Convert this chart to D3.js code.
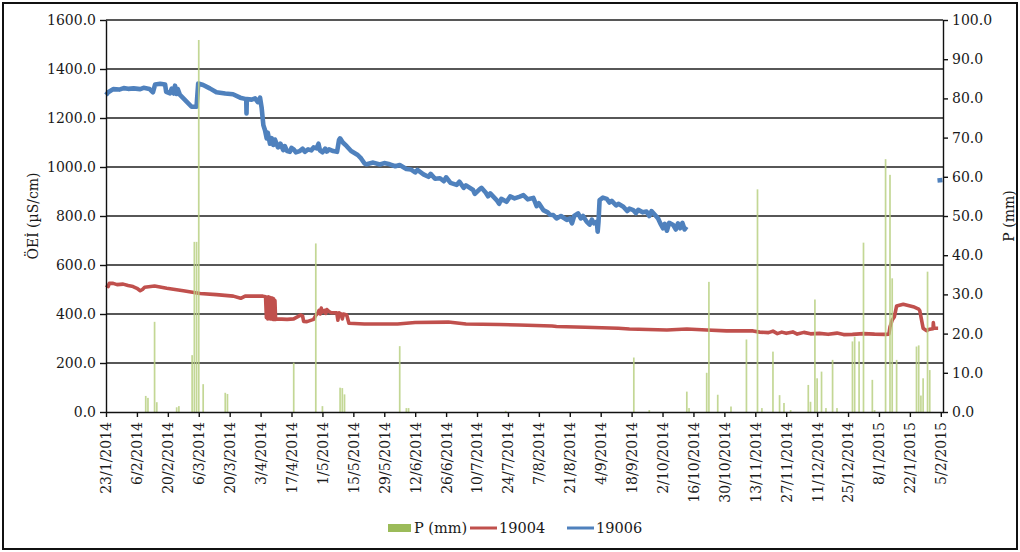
<!DOCTYPE html>
<html>
<head>
<meta charset="utf-8">
<script src="https://cdn.jsdelivr.net/npm/d3@7"></script>
<style>
  body { margin: 0; background: #fff; }
  svg { display: block; }
  text { font-family: "DejaVu Serif", "Liberation Serif", serif; fill: #1a1a1a; }
</style>
</head>
<body>
<svg id="chart" width="1020" height="552"></svg>
<script>
// Tick labels of the date axis (every 14 days)
const dateTicks = [
  "2014-01-23", "2014-02-06", "2014-02-20", "2014-03-06", "2014-03-20", "2014-04-03",
  "2014-04-17", "2014-05-01", "2014-05-15", "2014-05-29", "2014-06-12", "2014-06-26",
  "2014-07-10", "2014-07-24", "2014-08-07", "2014-08-21", "2014-09-04", "2014-09-18",
  "2014-10-02", "2014-10-16", "2014-10-30", "2014-11-13", "2014-11-27", "2014-12-11",
  "2014-12-25", "2015-01-08", "2015-01-22", "2015-02-05"
];
const dateDomain = ["2014-01-23", "2015-02-06"];
const ecTicks = [0, 200, 400, 600, 800, 1000, 1200, 1400, 1600];
const pTicks = [0, 10, 20, 30, 40, 50, 60, 70, 80, 90, 100];

// Daily precipitation, P (mm)
const precipitation = [
  ["2014-02-10", 4.1], ["2014-02-11", 3.6], ["2014-02-14", 23.0], ["2014-02-15", 2.5],
  ["2014-02-24", 1.2], ["2014-02-25", 1.5], ["2014-03-03", 14.5], ["2014-03-04", 43.4],
  ["2014-03-05", 43.4], ["2014-03-06", 94.9], ["2014-03-08", 7.1], ["2014-03-18", 4.9],
  ["2014-03-19", 4.6], ["2014-04-18", 12.6], ["2014-04-28", 43.0], ["2014-05-01", 1.5],
  ["2014-05-09", 6.2], ["2014-05-10", 6.1], ["2014-05-11", 4.5], ["2014-06-05", 16.8],
  ["2014-06-08", 1.0], ["2014-06-09", 1.0], ["2014-07-23", 0.3], ["2014-09-19", 13.9],
  ["2014-09-26", 0.5], ["2014-10-13", 5.2], ["2014-10-14", 1.0], ["2014-10-22", 10.0],
  ["2014-10-23", 33.2], ["2014-10-27", 4.4], ["2014-11-02", 1.4], ["2014-11-09", 18.5],
  ["2014-11-14", 56.8], ["2014-11-16", 1.0], ["2014-11-21", 15.4], ["2014-11-24", 4.3],
  ["2014-11-26", 2.3], ["2014-11-29", 0.5], ["2014-12-07", 6.9], ["2014-12-08", 2.6],
  ["2014-12-10", 28.7], ["2014-12-11", 8.6], ["2014-12-13", 10.3], ["2014-12-15", 1.0],
  ["2014-12-18", 13.3], ["2014-12-20", 1.0], ["2014-12-27", 18.0], ["2014-12-28", 19.2],
  ["2014-12-30", 18.0], ["2015-01-01", 43.2], ["2015-01-05", 8.2], ["2015-01-06", 0.5],
  ["2015-01-11", 64.5], ["2015-01-13", 60.5], ["2015-01-14", 34.1], ["2015-01-16", 13.3],
  ["2015-01-25", 16.7], ["2015-01-26", 17.0], ["2015-01-27", 4.2], ["2015-01-28", 8.6],
  ["2015-01-30", 35.8], ["2015-01-31", 10.7]
];

// Well 19004, EC (µS/cm)
const well19004 = [
  ["2014-01-23", 518], ["2014-01-24", 512], ["2014-01-24 12", 525], ["2014-01-26 06", 525],
  ["2014-01-28", 520], ["2014-01-30 18", 522], ["2014-02-02", 516], ["2014-02-04 06", 512],
  ["2014-02-06", 505], ["2014-02-07 12", 495], ["2014-02-08 12", 500], ["2014-02-09 12", 509],
  ["2014-02-14", 514], ["2014-02-19 12", 505], ["2014-02-27", 495], ["2014-03-06 15", 484],
  ["2014-03-14", 479], ["2014-03-21 15", 473], ["2014-03-25", 464], ["2014-03-27", 473],
  ["2014-04-04", 473], ["2014-04-05 06", 470], ["2014-04-05 15", 385], ["2014-04-05 21", 468],
  ["2014-04-06 05", 380], ["2014-04-06 12", 470], ["2014-04-06 19", 382], ["2014-04-07 02", 468],
  ["2014-04-07 10", 380], ["2014-04-07 17", 466], ["2014-04-08 00", 380], ["2014-04-08 07", 465],
  ["2014-04-08 14", 378], ["2014-04-08 22", 462], ["2014-04-09 05", 378], ["2014-04-09 12", 455],
  ["2014-04-09 19", 378], ["2014-04-10 05", 380], ["2014-04-15", 378], ["2014-04-18", 380],
  ["2014-04-20 12", 392], ["2014-04-21", 396], ["2014-04-22", 392], ["2014-04-22 12", 370],
  ["2014-04-24", 369], ["2014-04-27", 378], ["2014-04-28", 395], ["2014-04-29", 405],
  ["2014-04-29 12", 415], ["2014-04-30", 400], ["2014-04-30 12", 424], ["2014-05-01", 408],
  ["2014-05-02", 415], ["2014-05-02 12", 402], ["2014-05-03", 418], ["2014-05-04", 410],
  ["2014-05-05", 405], ["2014-05-07 12", 405], ["2014-05-08", 375], ["2014-05-08 12", 405],
  ["2014-05-09 12", 400], ["2014-05-10", 380], ["2014-05-10 12", 400], ["2014-05-12", 396],
  ["2014-05-13", 362], ["2014-05-20", 359], ["2014-06-04", 359], ["2014-06-12", 365],
  ["2014-06-27", 367], ["2014-07-05", 359], ["2014-07-20", 357], ["2014-07-29", 355],
  ["2014-08-13", 351], ["2014-08-15", 349], ["2014-08-28", 346], ["2014-09-12", 342],
  ["2014-09-17", 339], ["2014-10-04", 335], ["2014-10-13", 339], ["2014-10-22", 335],
  ["2014-10-31", 331], ["2014-11-12", 331], ["2014-11-15", 326], ["2014-11-19", 324],
  ["2014-11-21", 330], ["2014-11-23", 320], ["2014-11-25", 326], ["2014-11-27", 321],
  ["2014-11-30", 327], ["2014-12-02", 318], ["2014-12-05", 325], ["2014-12-08", 319],
  ["2014-12-12", 321], ["2014-12-16", 317], ["2014-12-20", 322], ["2014-12-23", 316],
  ["2014-12-27", 317], ["2015-01-01", 320], ["2015-01-06", 318], ["2015-01-11", 317],
  ["2015-01-12 12", 318], ["2015-01-13", 348], ["2015-01-14", 375], ["2015-01-15", 389],
  ["2015-01-16", 433], ["2015-01-19", 440], ["2015-01-23 12", 430], ["2015-01-26", 420],
  ["2015-01-26 12", 413], ["2015-01-28", 342], ["2015-01-29 12", 332], ["2015-01-31", 338],
  ["2015-02-01 12", 340], ["2015-02-01 15", 365], ["2015-02-01 21", 342], ["2015-02-03 19", 342]
];

// Well 19006, EC (µS/cm); null marks the gap in the record
const well19006 = [
  ["2014-01-23", 1294], ["2014-01-24", 1305], ["2014-01-26 06", 1318], ["2014-01-29", 1316],
  ["2014-01-31", 1322], ["2014-02-02", 1319], ["2014-02-04 12", 1321], ["2014-02-07 12", 1318],
  ["2014-02-09", 1323], ["2014-02-11 18", 1318], ["2014-02-13 06", 1305], ["2014-02-14 06", 1337],
  ["2014-02-16 12", 1340], ["2014-02-18 18", 1337], ["2014-02-19 06", 1307], ["2014-02-21", 1301],
  ["2014-02-21 18", 1320], ["2014-02-22 18", 1300], ["2014-02-23 06", 1332], ["2014-02-24", 1298],
  ["2014-02-24 12", 1318], ["2014-02-25 12", 1294], ["2014-02-28 12", 1267], ["2014-03-02 18", 1246],
  ["2014-03-05", 1246], ["2014-03-05 18", 1341], ["2014-03-08", 1335], ["2014-03-11", 1321],
  ["2014-03-14", 1305], ["2014-03-18", 1300], ["2014-03-21 12", 1297], ["2014-03-24 18", 1283],
  ["2014-03-27 12", 1277], ["2014-03-27 15", 1219], ["2014-03-27 18", 1277], ["2014-03-30", 1275],
  ["2014-03-31 12", 1280], ["2014-04-01 18", 1265], ["2014-04-02 18", 1283], ["2014-04-03 12", 1240],
  ["2014-04-04 06", 1171], ["2014-04-05", 1150], ["2014-04-05 18", 1117], ["2014-04-06 06", 1140],
  ["2014-04-07 06", 1095], ["2014-04-08", 1118], ["2014-04-08 18", 1090], ["2014-04-09 12", 1112],
  ["2014-04-10 21", 1080], ["2014-04-11", 1080], ["2014-04-12", 1095], ["2014-04-13 06", 1069],
  ["2014-04-14", 1085], ["2014-04-15", 1065], ["2014-04-16 06", 1062], ["2014-04-17", 1078],
  ["2014-04-18", 1072], ["2014-04-19", 1060], ["2014-04-20 18", 1065], ["2014-04-22", 1075],
  ["2014-04-23", 1062], ["2014-04-24 12", 1072], ["2014-04-26", 1068], ["2014-04-27", 1080],
  ["2014-04-28 09", 1076], ["2014-04-29 05", 1095], ["2014-04-29 21", 1068], ["2014-05-01", 1060],
  ["2014-05-02 06", 1075], ["2014-05-03", 1063], ["2014-05-04", 1072], ["2014-05-05 21", 1065],
  ["2014-05-07 15", 1062], ["2014-05-08 12", 1110], ["2014-05-09", 1117], ["2014-05-10 06", 1100],
  ["2014-05-12", 1085], ["2014-05-14", 1065], ["2014-05-17", 1049], ["2014-05-18 12", 1035],
  ["2014-05-20", 1015], ["2014-05-21", 1011], ["2014-05-24", 1018], ["2014-05-27", 1010],
  ["2014-05-29", 1016], ["2014-05-31 12", 1011], ["2014-06-03", 1003], ["2014-06-05", 1008],
  ["2014-06-08", 992], ["2014-06-10", 990], ["2014-06-12", 978], ["2014-06-13", 988],
  ["2014-06-15 18", 970], ["2014-06-18", 960], ["2014-06-19", 972], ["2014-06-21", 952],
  ["2014-06-23 06", 954], ["2014-06-25", 942], ["2014-06-26", 958], ["2014-06-28", 935],
  ["2014-06-30 18", 927], ["2014-07-02", 940], ["2014-07-04", 915], ["2014-07-05", 925],
  ["2014-07-08 06", 906], ["2014-07-09", 890], ["2014-07-11 06", 910], ["2014-07-12", 915],
  ["2014-07-14", 895], ["2014-07-15", 880], ["2014-07-16", 892], ["2014-07-18 21", 865],
  ["2014-07-20", 850], ["2014-07-21", 870], ["2014-07-23 09", 858], ["2014-07-25", 880],
  ["2014-07-27", 872], ["2014-07-29 09", 879], ["2014-07-31", 885], ["2014-08-02", 868],
  ["2014-08-04 12", 874], ["2014-08-06", 840], ["2014-08-07", 852], ["2014-08-09", 824],
  ["2014-08-11", 815], ["2014-08-12", 805], ["2014-08-13 12", 804], ["2014-08-15", 790],
  ["2014-08-17", 800], ["2014-08-19 15", 784], ["2014-08-21", 790], ["2014-08-22", 770],
  ["2014-08-23", 800], ["2014-08-24 18", 811], ["2014-08-26", 790], ["2014-08-27", 800],
  ["2014-08-28 15", 777], ["2014-08-30", 765], ["2014-08-31", 785], ["2014-09-01", 770],
  ["2014-09-02 06", 777], ["2014-09-02 15", 736], ["2014-09-03 00", 775], ["2014-09-03 12", 865],
  ["2014-09-05", 875], ["2014-09-06 18", 870], ["2014-09-08", 855], ["2014-09-09", 862],
  ["2014-09-11", 843], ["2014-09-12", 850], ["2014-09-14 06", 838], ["2014-09-16", 820],
  ["2014-09-17", 830], ["2014-09-18 18", 824], ["2014-09-20", 812], ["2014-09-21", 825],
  ["2014-09-23", 815], ["2014-09-24 18", 818], ["2014-09-26", 800], ["2014-09-27", 820],
  ["2014-09-28 15", 804], ["2014-09-30", 790], ["2014-10-01", 770], ["2014-10-02 06", 750],
  ["2014-10-03", 768], ["2014-10-04", 740], ["2014-10-05", 772], ["2014-10-06 21", 763],
  ["2014-10-08", 745], ["2014-10-09", 770], ["2014-10-10", 750], ["2014-10-11", 772],
  ["2014-10-12", 745], ["2014-10-12 21", 756],
  ["2014-10-13", null],
  ["2015-02-03 12", 945], ["2015-02-05 18", 947]
];

const parseDay = d3.timeParse("%Y-%m-%d");
const parseHour = d3.timeParse("%Y-%m-%d %H");
const parse = s => (s.length > 10 ? parseHour(s) : parseDay(s));

const svg = d3.select("#chart");
const W = 1020, H = 552;
const plot = { left: 106, right: 943, top: 20, bottom: 412 };

// Outer frame
svg.append("rect")
  .attr("x", 3).attr("y", 3).attr("width", W - 6).attr("height", H - 6)
  .attr("fill", "#fff").attr("stroke", "#111").attr("stroke-width", 2);

const x = d3.scaleTime().domain(dateDomain.map(parse)).range([plot.left, plot.right]);
const yEC = d3.scaleLinear().domain([0, 1600]).range([plot.bottom, plot.top]);
const yP = d3.scaleLinear().domain([0, 100]).range([plot.bottom, plot.top]);

// Horizontal gridlines
svg.append("g").selectAll("line")
  .data(ecTicks.filter(v => v > 0))
  .join("line")
  .attr("x1", plot.left).attr("x2", plot.right)
  .attr("y1", d => yEC(d)).attr("y2", d => yEC(d))
  .attr("stroke", "#1f1f1f").attr("stroke-width", 1.3);

// EC lines
const line = d3.line()
  .defined(d => d[1] != null)
  .x(d => x(parse(d[0])))
  .y(d => yEC(d[1]));

svg.append("path").datum(well19004)
  .attr("d", line).attr("fill", "none")
  .attr("stroke", "#c0504d").attr("stroke-width", 3.6)
  .attr("stroke-linejoin", "round");

svg.append("path").datum(well19006)
  .attr("d", line).attr("fill", "none")
  .attr("stroke", "#4f81bd").attr("stroke-width", 4.6)
  .attr("stroke-linejoin", "round");

// Precipitation bars (secondary axis)
const barW = 1.7;
svg.append("g").selectAll("rect")
  .data(precipitation)
  .join("rect")
  .attr("x", d => x(parse(d[0])) - barW / 2)
  .attr("y", d => yP(d[1]))
  .attr("width", barW)
  .attr("height", d => yP(0) - yP(d[1]))
  .attr("fill", "#b8d082")
  .attr("opacity", 0.85);

// Axes
const fmt1 = d3.format(".1f");
const axisFont = g => g.selectAll("text")
  .style("font-family", '"DejaVu Serif", serif').style("font-size", "14px").attr("fill", "#1a1a1a");

svg.append("g")
  .attr("transform", `translate(${plot.left},0)`)
  .call(d3.axisLeft(yEC).tickValues(ecTicks).tickFormat(fmt1).tickSize(6).tickSizeOuter(0).tickPadding(4))
  .call(g => g.selectAll("line, path").attr("stroke", "#111").attr("stroke-width", 1.4))
  .call(axisFont);

svg.append("g")
  .attr("transform", `translate(${plot.right},0)`)
  .call(d3.axisRight(yP).tickValues(pTicks).tickFormat(fmt1).tickSize(5).tickSizeOuter(0).tickPadding(4))
  .call(g => g.selectAll("line, path").attr("stroke", "#111").attr("stroke-width", 1.4))
  .call(axisFont);

svg.append("g")
  .attr("transform", `translate(0,${plot.bottom})`)
  .call(d3.axisBottom(x).tickValues(dateTicks.map(parse))
    .tickFormat(d3.timeFormat("%-d/%-m/%Y")).tickSize(5).tickSizeOuter(0))
  .call(g => g.selectAll("line, path").attr("stroke", "#111").attr("stroke-width", 1.4))
  .call(axisFont)
  .call(g => g.selectAll("text")
    .attr("x", -10).attr("y", 0).attr("dy", "0.35em")
    .attr("transform", "rotate(-90)")
    .style("text-anchor", "end"));

// Axis titles
svg.append("text")
  .attr("transform", `translate(33,${(plot.top + plot.bottom) / 2}) rotate(-90)`)
  .attr("text-anchor", "middle").attr("dy", "0.35em")
  .style("font-size", "14px")
  .text("ÖEİ (µS/cm)");

svg.append("text")
  .attr("transform", `translate(1009,${(plot.top + plot.bottom) / 2}) rotate(-90)`)
  .attr("text-anchor", "middle").attr("dy", "0.35em")
  .style("font-size", "14px")
  .text("P (mm)");

// Legend
const legend = svg.append("g").style("font-size", "14.5px");
legend.append("rect").attr("x", 388).attr("y", 524).attr("width", 23).attr("height", 8).attr("fill", "#9bbb59");
legend.append("text").attr("x", 414).attr("y", 533).text("P (mm)");
legend.append("line").attr("x1", 470).attr("x2", 497).attr("y1", 528).attr("y2", 528)
  .attr("stroke", "#c0504d").attr("stroke-width", 3);
legend.append("text").attr("x", 499).attr("y", 533).text("19004");
legend.append("line").attr("x1", 567).attr("x2", 594).attr("y1", 528).attr("y2", 528)
  .attr("stroke", "#4f81bd").attr("stroke-width", 3);
legend.append("text").attr("x", 596).attr("y", 533).text("19006");
</script>
</body>
</html>
